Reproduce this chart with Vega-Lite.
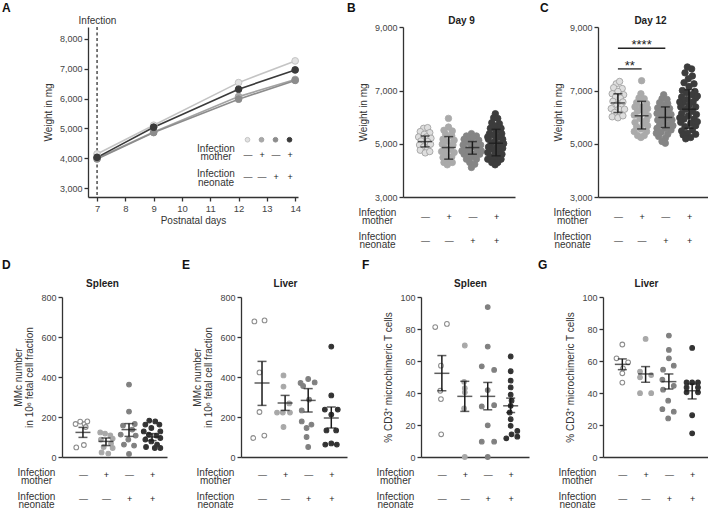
{
"$schema":"https://vega.github.io/schema/vega-lite/v6.json",
"padding":{"left":2,"top":2,"right":0,"bottom":0},
"config":{"font":"Liberation Sans","view":{"stroke":null},
"axis":{"grid":false,"domainColor":"#333","domainWidth":1.3,"tickColor":"#333","tickWidth":1.3,"tickSize":4,"labelColor":"#444","labelFontSize":9,"titleFontSize":10,"titleFontWeight":"normal","titleColor":"#333"},
"title":{"font":"Liberation Sans"}},
"datasets":{
"wA":[{"day":7,"g":1,"v":4143},{"day":7,"g":2,"v":4000},{"day":7,"g":3,"v":3975},{"day":7,"g":4,"v":4030},
{"day":9,"g":1,"v":5106},{"day":9,"g":2,"v":4880},{"day":9,"g":3,"v":4860},{"day":9,"g":4,"v":5040},
{"day":12,"g":1,"v":6535},{"day":12,"g":2,"v":6066},{"day":12,"g":3,"v":5980},{"day":12,"g":4,"v":6313},
{"day":14,"g":1,"v":7264},{"day":14,"g":2,"v":6640},{"day":14,"g":3,"v":6610},{"day":14,"g":4,"v":6962}],
"sig":[{"x1":1,"x2":3,"y":8330,"xm":2,"t":"****"},{"x1":1,"x2":2,"y":7680,"xm":1.5,"t":"**"}],
"sum":[
{"p":"B","g":1,"m":5080,"lo":4880,"hi":5292},{"p":"B","g":2,"m":4857,"lo":4421,"hi":5268},{"p":"B","g":3,"m":4857,"lo":4608,"hi":5082},{"p":"B","g":4,"m":5019,"lo":4545,"hi":5542},
{"p":"C","g":1,"m":6533,"lo":6173,"hi":6877},{"p":"C","g":2,"m":6050,"lo":5556,"hi":6593},{"p":"C","g":3,"m":5988,"lo":5605,"hi":6384},{"p":"C","g":4,"m":6297,"lo":5580,"hi":7025},
{"p":"D","g":1,"m":123,"lo":98,"hi":148},{"p":"D","g":2,"m":78,"lo":57,"hi":95},{"p":"D","g":3,"m":137,"lo":103,"hi":167},{"p":"D","g":4,"m":100,"lo":82,"hi":117},
{"p":"E","g":1,"m":370,"lo":258,"hi":478},{"p":"E","g":2,"m":270,"lo":233,"hi":308},{"p":"E","g":3,"m":283,"lo":225,"hi":342},{"p":"E","g":4,"m":195,"lo":145,"hi":250},
{"p":"F","g":1,"m":52.3,"lo":41.4,"hi":63.4},{"p":"F","g":2,"m":37.9,"lo":28.5,"hi":47.3},{"p":"F","g":3,"m":37.9,"lo":29.5,"hi":46.6},{"p":"F","g":4,"m":32,"lo":27.8,"hi":36.8},
{"p":"G","g":1,"m":57.9,"lo":54.6,"hi":61.3},{"p":"G","g":2,"m":51.9,"lo":46.7,"hi":56.5},{"p":"G","g":3,"m":47.1,"lo":42.5,"hi":51.9},{"p":"G","g":4,"m":41.4,"lo":36.3,"hi":45.6}],
"pts":[
{"p":"B","g":1,"x":0.94,"v":5579},{"p":"B","g":1,"x":1.11,"v":5605},{"p":"B","g":1,"x":0.8,"v":5456},{"p":"B","g":1,"x":1.2,"v":5418},{"p":"B","g":1,"x":0.97,"v":5355},{"p":"B","g":1,"x":0.73,"v":5254},{"p":"B","g":1,"x":1.06,"v":5254},{"p":"B","g":1,"x":1.25,"v":5206},{"p":"B","g":1,"x":0.83,"v":5105},{"p":"B","g":1,"x":1.11,"v":5082},{"p":"B","g":1,"x":0.77,"v":4955},{"p":"B","g":1,"x":1.23,"v":4981},{"p":"B","g":1,"x":0.94,"v":4880},{"p":"B","g":1,"x":1.11,"v":4794},{"p":"B","g":1,"x":0.8,"v":4757},{"p":"B","g":1,"x":1.01,"v":4657},{"p":"B","g":1,"x":1.2,"v":4707},
{"p":"B","g":2,"x":1.99,"v":5953},{"p":"B","g":2,"x":1.99,"v":5628},{"p":"B","g":2,"x":1.8,"v":5505},{"p":"B","g":2,"x":2.15,"v":5480},{"p":"B","g":2,"x":1.87,"v":5355},{"p":"B","g":2,"x":2.13,"v":5293},{"p":"B","g":2,"x":1.76,"v":5168},{"p":"B","g":2,"x":2.23,"v":5131},{"p":"B","g":2,"x":1.94,"v":5082},{"p":"B","g":2,"x":1.73,"v":4981},{"p":"B","g":2,"x":2.18,"v":4955},{"p":"B","g":2,"x":1.85,"v":4832},{"p":"B","g":2,"x":2.08,"v":4794},{"p":"B","g":2,"x":1.7,"v":4707},{"p":"B","g":2,"x":2.23,"v":4670},{"p":"B","g":2,"x":1.9,"v":4608},{"p":"B","g":2,"x":2.13,"v":4508},{"p":"B","g":2,"x":1.76,"v":4483},{"p":"B","g":2,"x":1.99,"v":4383},{"p":"B","g":2,"x":1.8,"v":4296},{"p":"B","g":2,"x":2.15,"v":4296},{"p":"B","g":2,"x":1.94,"v":4209},
{"p":"B","g":3,"x":2.96,"v":5380},{"p":"B","g":3,"x":2.75,"v":5293},{"p":"B","g":3,"x":3.17,"v":5293},{"p":"B","g":3,"x":2.65,"v":5168},{"p":"B","g":3,"x":2.93,"v":5168},{"p":"B","g":3,"x":3.27,"v":5131},{"p":"B","g":3,"x":2.82,"v":5044},{"p":"B","g":3,"x":3.1,"v":5007},{"p":"B","g":3,"x":2.61,"v":4955},{"p":"B","g":3,"x":3.35,"v":4955},{"p":"B","g":3,"x":2.96,"v":4880},{"p":"B","g":3,"x":2.7,"v":4794},{"p":"B","g":3,"x":3.24,"v":4794},{"p":"B","g":3,"x":2.89,"v":4707},{"p":"B","g":3,"x":3.13,"v":4632},{"p":"B","g":3,"x":2.65,"v":4608},{"p":"B","g":3,"x":3.31,"v":4608},{"p":"B","g":3,"x":2.96,"v":4508},{"p":"B","g":3,"x":2.75,"v":4421},{"p":"B","g":3,"x":3.17,"v":4421},{"p":"B","g":3,"x":2.89,"v":4296},{"p":"B","g":3,"x":3.1,"v":4234},{"p":"B","g":3,"x":2.96,"v":4109},{"p":"B","g":3,"x":2.79,"v":4545},{"p":"B","g":3,"x":3.17,"v":4857},{"p":"B","g":3,"x":3.03,"v":5254},{"p":"B","g":3,"x":3.38,"v":4732},{"p":"B","g":3,"x":2.56,"v":4732},
{"p":"B","g":4,"x":3.97,"v":6128},{"p":"B","g":4,"x":3.9,"v":5978},{"p":"B","g":4,"x":4.07,"v":5953},{"p":"B","g":4,"x":3.82,"v":5791},{"p":"B","g":4,"x":4.14,"v":5754},{"p":"B","g":4,"x":3.96,"v":5667},{"p":"B","g":4,"x":3.76,"v":5579},{"p":"B","g":4,"x":4.21,"v":5579},{"p":"B","g":4,"x":4.0,"v":5480},{"p":"B","g":4,"x":3.72,"v":5380},{"p":"B","g":4,"x":4.24,"v":5380},{"p":"B","g":4,"x":3.9,"v":5330},{"p":"B","g":4,"x":4.11,"v":5254},{"p":"B","g":4,"x":3.68,"v":5168},{"p":"B","g":4,"x":4.28,"v":5168},{"p":"B","g":4,"x":3.96,"v":5105},{"p":"B","g":4,"x":3.79,"v":5007},{"p":"B","g":4,"x":4.18,"v":4981},{"p":"B","g":4,"x":3.68,"v":4880},{"p":"B","g":4,"x":4.04,"v":4880},{"p":"B","g":4,"x":4.28,"v":4832},{"p":"B","g":4,"x":3.86,"v":4794},{"p":"B","g":4,"x":4.14,"v":4707},{"p":"B","g":4,"x":3.65,"v":4670},{"p":"B","g":4,"x":3.96,"v":4632},{"p":"B","g":4,"x":4.25,"v":4608},{"p":"B","g":4,"x":3.76,"v":4508},{"p":"B","g":4,"x":4.07,"v":4483},{"p":"B","g":4,"x":3.65,"v":4421},{"p":"B","g":4,"x":3.9,"v":4383},{"p":"B","g":4,"x":4.21,"v":4421},{"p":"B","g":4,"x":3.82,"v":4296},{"p":"B","g":4,"x":4.07,"v":4296},{"p":"B","g":4,"x":3.96,"v":4209},{"p":"B","g":4,"x":4.32,"v":5007},{"p":"B","g":4,"x":3.65,"v":5254},
{"p":"C","g":1,"x":0.93,"v":7210},{"p":"C","g":1,"x":1.07,"v":7284},{"p":"C","g":1,"x":0.82,"v":7087},{"p":"C","g":1,"x":1.18,"v":7062},{"p":"C","g":1,"x":1.0,"v":6963},{"p":"C","g":1,"x":0.76,"v":6877},{"p":"C","g":1,"x":1.24,"v":6840},{"p":"C","g":1,"x":0.9,"v":6754},{"p":"C","g":1,"x":1.1,"v":6717},{"p":"C","g":1,"x":0.79,"v":6593},{"p":"C","g":1,"x":1.21,"v":6569},{"p":"C","g":1,"x":0.96,"v":6470},{"p":"C","g":1,"x":1.14,"v":6384},{"p":"C","g":1,"x":0.72,"v":6321},{"p":"C","g":1,"x":1.04,"v":6297},{"p":"C","g":1,"x":1.28,"v":6297},{"p":"C","g":1,"x":0.86,"v":6173},{"p":"C","g":1,"x":1.1,"v":6099},{"p":"C","g":1,"x":0.76,"v":6013},{"p":"C","g":1,"x":1.0,"v":5976},{"p":"C","g":1,"x":1.21,"v":6050},
{"p":"C","g":2,"x":2.0,"v":7309},{"p":"C","g":2,"x":1.97,"v":6877},{"p":"C","g":2,"x":1.89,"v":6717},{"p":"C","g":2,"x":2.11,"v":6692},{"p":"C","g":2,"x":1.79,"v":6544},{"p":"C","g":2,"x":2.21,"v":6507},{"p":"C","g":2,"x":1.72,"v":6384},{"p":"C","g":2,"x":2.0,"v":6384},{"p":"C","g":2,"x":2.25,"v":6321},{"p":"C","g":2,"x":1.83,"v":6223},{"p":"C","g":2,"x":2.14,"v":6173},{"p":"C","g":2,"x":1.69,"v":6075},{"p":"C","g":2,"x":2.28,"v":6050},{"p":"C","g":2,"x":1.93,"v":5951},{"p":"C","g":2,"x":2.21,"v":5889},{"p":"C","g":2,"x":1.72,"v":5803},{"p":"C","g":2,"x":2.07,"v":5766},{"p":"C","g":2,"x":1.79,"v":5643},{"p":"C","g":2,"x":2.25,"v":5680},{"p":"C","g":2,"x":1.97,"v":5556},{"p":"C","g":2,"x":1.69,"v":5457},{"p":"C","g":2,"x":2.21,"v":5457},{"p":"C","g":2,"x":1.83,"v":5309},{"p":"C","g":2,"x":2.11,"v":5309},{"p":"C","g":2,"x":1.97,"v":5235},
{"p":"C","g":3,"x":2.93,"v":6840},{"p":"C","g":3,"x":2.86,"v":6692},{"p":"C","g":3,"x":3.07,"v":6667},{"p":"C","g":3,"x":2.76,"v":6544},{"p":"C","g":3,"x":3.1,"v":6507},{"p":"C","g":3,"x":2.93,"v":6445},{"p":"C","g":3,"x":2.68,"v":6346},{"p":"C","g":3,"x":3.18,"v":6321},{"p":"C","g":3,"x":2.86,"v":6260},{"p":"C","g":3,"x":3.04,"v":6173},{"p":"C","g":3,"x":2.65,"v":6136},{"p":"C","g":3,"x":3.24,"v":6099},{"p":"C","g":3,"x":2.86,"v":6050},{"p":"C","g":3,"x":3.1,"v":5951},{"p":"C","g":3,"x":2.68,"v":5889},{"p":"C","g":3,"x":3.28,"v":5889},{"p":"C","g":3,"x":2.93,"v":5828},{"p":"C","g":3,"x":2.76,"v":5704},{"p":"C","g":3,"x":3.14,"v":5704},{"p":"C","g":3,"x":2.65,"v":5580},{"p":"C","g":3,"x":3.0,"v":5580},{"p":"C","g":3,"x":3.24,"v":5519},{"p":"C","g":3,"x":2.82,"v":5432},{"p":"C","g":3,"x":3.1,"v":5358},{"p":"C","g":3,"x":2.72,"v":5272},{"p":"C","g":3,"x":3.0,"v":5210},{"p":"C","g":3,"x":2.86,"v":5087},{"p":"C","g":3,"x":3.0,"v":5020},{"p":"C","g":3,"x":2.62,"v":5395},{"p":"C","g":3,"x":3.32,"v":5680},
{"p":"C","g":4,"x":3.93,"v":7741},{"p":"C","g":4,"x":4.11,"v":7680},{"p":"C","g":4,"x":3.83,"v":7556},{"p":"C","g":4,"x":4.14,"v":7457},{"p":"C","g":4,"x":3.97,"v":7371},{"p":"C","g":4,"x":3.79,"v":7247},{"p":"C","g":4,"x":4.21,"v":7210},{"p":"C","g":4,"x":4.0,"v":7124},{"p":"C","g":4,"x":3.72,"v":7000},{"p":"C","g":4,"x":4.25,"v":6963},{"p":"C","g":4,"x":3.89,"v":6914},{"p":"C","g":4,"x":4.11,"v":6840},{"p":"C","g":4,"x":3.69,"v":6754},{"p":"C","g":4,"x":4.28,"v":6717},{"p":"C","g":4,"x":3.93,"v":6667},{"p":"C","g":4,"x":3.75,"v":6544},{"p":"C","g":4,"x":4.17,"v":6569},{"p":"C","g":4,"x":4.0,"v":6445},{"p":"C","g":4,"x":3.65,"v":6384},{"p":"C","g":4,"x":4.28,"v":6384},{"p":"C","g":4,"x":3.86,"v":6297},{"p":"C","g":4,"x":4.14,"v":6223},{"p":"C","g":4,"x":3.69,"v":6136},{"p":"C","g":4,"x":4.31,"v":6099},{"p":"C","g":4,"x":3.97,"v":6050},{"p":"C","g":4,"x":3.79,"v":5926},{"p":"C","g":4,"x":4.21,"v":5926},{"p":"C","g":4,"x":3.65,"v":5803},{"p":"C","g":4,"x":4.07,"v":5766},{"p":"C","g":4,"x":4.28,"v":5680},{"p":"C","g":4,"x":3.83,"v":5643},{"p":"C","g":4,"x":3.69,"v":5482},{"p":"C","g":4,"x":4.14,"v":5519},{"p":"C","g":4,"x":3.93,"v":5395},{"p":"C","g":4,"x":4.28,"v":5358},{"p":"C","g":4,"x":3.75,"v":5333},{"p":"C","g":4,"x":4.07,"v":5235},{"p":"C","g":4,"x":3.86,"v":5185},{"p":"C","g":4,"x":3.61,"v":5975},{"p":"C","g":4,"x":4.35,"v":5828},{"p":"C","g":4,"x":3.61,"v":6569},{"p":"C","g":4,"x":4.35,"v":6790},
{"p":"D","g":1,"x":0.68,"v":165},{"p":"D","g":1,"x":0.88,"v":177},{"p":"D","g":1,"x":1.07,"v":165},{"p":"D","g":1,"x":1.19,"v":178},{"p":"D","g":1,"x":1.12,"v":150},{"p":"D","g":1,"x":0.71,"v":48},{"p":"D","g":1,"x":1.04,"v":60},
{"p":"D","g":2,"x":1.75,"v":123},{"p":"D","g":2,"x":1.96,"v":117},{"p":"D","g":2,"x":2.19,"v":108},{"p":"D","g":2,"x":2.29,"v":92},{"p":"D","g":2,"x":1.78,"v":87},{"p":"D","g":2,"x":2.22,"v":67},{"p":"D","g":2,"x":1.9,"v":50},{"p":"D","g":2,"x":2.29,"v":45},{"p":"D","g":2,"x":1.81,"v":23},{"p":"D","g":2,"x":2.1,"v":17},
{"p":"D","g":3,"x":3.0,"v":362},{"p":"D","g":3,"x":3.0,"v":227},{"p":"D","g":3,"x":2.74,"v":157},{"p":"D","g":3,"x":3.25,"v":165},{"p":"D","g":3,"x":3.14,"v":137},{"p":"D","g":3,"x":2.64,"v":112},{"p":"D","g":3,"x":3.29,"v":107},{"p":"D","g":3,"x":2.97,"v":87},{"p":"D","g":3,"x":2.78,"v":62},{"p":"D","g":3,"x":3.22,"v":57},{"p":"D","g":3,"x":3.0,"v":15},
{"p":"D","g":4,"x":3.88,"v":182},{"p":"D","g":4,"x":4.14,"v":178},{"p":"D","g":4,"x":3.71,"v":162},{"p":"D","g":4,"x":4.32,"v":162},{"p":"D","g":4,"x":3.97,"v":145},{"p":"D","g":4,"x":3.64,"v":128},{"p":"D","g":4,"x":4.36,"v":128},{"p":"D","g":4,"x":3.86,"v":112},{"p":"D","g":4,"x":4.19,"v":107},{"p":"D","g":4,"x":3.71,"v":87},{"p":"D","g":4,"x":4.36,"v":95},{"p":"D","g":4,"x":3.97,"v":78},{"p":"D","g":4,"x":4.22,"v":62},{"p":"D","g":4,"x":3.74,"v":50},{"p":"D","g":4,"x":4.12,"v":45},{"p":"D","g":4,"x":4.36,"v":45},
{"p":"E","g":1,"x":0.67,"v":678},{"p":"E","g":1,"x":1.11,"v":683},{"p":"E","g":1,"x":0.89,"v":423},{"p":"E","g":1,"x":0.89,"v":225},{"p":"E","g":1,"x":0.62,"v":95},{"p":"E","g":1,"x":1.1,"v":107},
{"p":"E","g":2,"x":1.93,"v":408},{"p":"E","g":2,"x":1.93,"v":352},{"p":"E","g":2,"x":2.18,"v":268},{"p":"E","g":2,"x":1.65,"v":222},{"p":"E","g":2,"x":1.9,"v":222},{"p":"E","g":2,"x":2.21,"v":222},{"p":"E","g":2,"x":1.93,"v":150},
{"p":"E","g":3,"x":2.67,"v":370},{"p":"E","g":3,"x":3.0,"v":390},{"p":"E","g":3,"x":3.28,"v":373},{"p":"E","g":3,"x":2.78,"v":355},{"p":"E","g":3,"x":3.04,"v":287},{"p":"E","g":3,"x":2.72,"v":233},{"p":"E","g":3,"x":2.72,"v":178},{"p":"E","g":3,"x":3.14,"v":162},{"p":"E","g":3,"x":2.93,"v":145},{"p":"E","g":3,"x":2.93,"v":100},{"p":"E","g":3,"x":3.0,"v":50},
{"p":"E","g":4,"x":4.0,"v":552},{"p":"E","g":4,"x":4.0,"v":308},{"p":"E","g":4,"x":3.72,"v":237},{"p":"E","g":4,"x":4.28,"v":237},{"p":"E","g":4,"x":4.0,"v":212},{"p":"E","g":4,"x":3.79,"v":133},{"p":"E","g":4,"x":4.21,"v":133},{"p":"E","g":4,"x":3.74,"v":62},{"p":"E","g":4,"x":4.24,"v":62},{"p":"E","g":4,"x":4.0,"v":68},
{"p":"F","g":1,"x":0.71,"v":81.2},{"p":"F","g":1,"x":1.22,"v":83.2},{"p":"F","g":1,"x":0.96,"v":57.1},{"p":"F","g":1,"x":0.93,"v":41.4},{"p":"F","g":1,"x":0.96,"v":36.2},{"p":"F","g":1,"x":0.97,"v":14.2},
{"p":"F","g":2,"x":2.0,"v":69.7},{"p":"F","g":2,"x":1.97,"v":47},{"p":"F","g":2,"x":2.0,"v":43},{"p":"F","g":2,"x":2.0,"v":40.4},{"p":"F","g":2,"x":1.97,"v":30.3},{"p":"F","g":2,"x":2.0,"v":0},
{"p":"F","g":3,"x":3.0,"v":93.7},{"p":"F","g":3,"x":3.0,"v":69},{"p":"F","g":3,"x":2.74,"v":56.7},{"p":"F","g":3,"x":3.28,"v":54.4},{"p":"F","g":3,"x":3.0,"v":41.8},{"p":"F","g":3,"x":2.74,"v":31.6},{"p":"F","g":3,"x":3.28,"v":32.4},{"p":"F","g":3,"x":3.0,"v":19.8},{"p":"F","g":3,"x":2.74,"v":9.6},{"p":"F","g":3,"x":3.28,"v":9.6},{"p":"F","g":3,"x":3.0,"v":0},
{"p":"F","g":4,"x":4.0,"v":62.8},{"p":"F","g":4,"x":4.0,"v":53.6},{"p":"F","g":4,"x":4.0,"v":47.7},{"p":"F","g":4,"x":4.0,"v":43.5},{"p":"F","g":4,"x":4.0,"v":38.9},{"p":"F","g":4,"x":4.04,"v":35.2},{"p":"F","g":4,"x":4.0,"v":32},{"p":"F","g":4,"x":3.96,"v":27.8},{"p":"F","g":4,"x":4.0,"v":23.6},{"p":"F","g":4,"x":4.0,"v":19.5},{"p":"F","g":4,"x":3.81,"v":11.7},{"p":"F","g":4,"x":4.29,"v":16.3},{"p":"F","g":4,"x":4.04,"v":14.2},{"p":"F","g":4,"x":4.29,"v":12.7},
{"p":"G","g":1,"x":1.0,"v":70.3},{"p":"G","g":1,"x":0.75,"v":61.7},{"p":"G","g":1,"x":1.25,"v":59.2},{"p":"G","g":1,"x":1.03,"v":55.4},{"p":"G","g":1,"x":1.0,"v":52.3},{"p":"G","g":1,"x":1.0,"v":46.5},
{"p":"G","g":2,"x":2.0,"v":73.8},{"p":"G","g":2,"x":1.76,"v":53.4},{"p":"G","g":2,"x":1.76,"v":49.8},{"p":"G","g":2,"x":2.24,"v":51.2},{"p":"G","g":2,"x":1.76,"v":39.9},{"p":"G","g":2,"x":2.24,"v":39.9},
{"p":"G","g":3,"x":3.0,"v":75.9},{"p":"G","g":3,"x":3.0,"v":66.9},{"p":"G","g":3,"x":3.0,"v":61.7},{"p":"G","g":3,"x":3.21,"v":57.1},{"p":"G","g":3,"x":2.75,"v":54.6},{"p":"G","g":3,"x":2.72,"v":48.3},{"p":"G","g":3,"x":3.21,"v":44.5},{"p":"G","g":3,"x":2.75,"v":42.1},{"p":"G","g":3,"x":2.97,"v":35.2},{"p":"G","g":3,"x":2.72,"v":29.9},{"p":"G","g":3,"x":3.21,"v":28.3},{"p":"G","g":3,"x":2.97,"v":24.1},
{"p":"G","g":4,"x":4.0,"v":68.2},{"p":"G","g":4,"x":3.76,"v":46.6},{"p":"G","g":4,"x":4.0,"v":46.6},{"p":"G","g":4,"x":4.25,"v":46.6},{"p":"G","g":4,"x":3.76,"v":43.5},{"p":"G","g":4,"x":4.25,"v":43.5},{"p":"G","g":4,"x":3.76,"v":40.4},{"p":"G","g":4,"x":4.25,"v":40.4},{"p":"G","g":4,"x":4.0,"v":26.1},{"p":"G","g":4,"x":4.0,"v":14.8}]
},
"spacing":10,
"vconcat":[
{"bounds":"flush","spacing":0,
 "resolve":{"scale":{"fill":"independent","stroke":"independent"}},
 "hconcat":[
 {"width":26,"height":1,"data":{"values":[]},"mark":"point","encoding":{}},
 {"title":{"text":"A","anchor":"start","frame":"group","dx":-86,"fontSize":12,"fontWeight":"bold","color":"#111","baseline":"bottom","offset":-12},
  "width":210,"height":170,
  "resolve":{"axis":{"x":"independent","y":"independent"}},
  "layer":[
   {"data":{"values":[{"day":7}]},"mark":{"type":"rule","strokeDash":[3,2.5],"color":"#222","strokeWidth":1.2},
    "encoding":{"x":{"field":"day","type":"quantitative","axis":{"orient":"top","domain":false,"ticks":false,"labels":false,"title":"Infection","titleX":9,"titleAlign":"center","titlePadding":2,"titleFontSize":10,"titleColor":"#333"}}}},
   {"data":{"name":"wA"},"mark":{"type":"line","strokeWidth":1.6},
    "encoding":{
     "x":{"field":"day","type":"quantitative","scale":{"domain":[6.68,14.1],"nice":false,"zero":false},"axis":{"values":[7,8,9,10,11,12,13,14],"labelOverlap":false,"labelFlush":false,"title":"Postnatal days","titlePadding":3,"labelPadding":2,"labelFontSize":9.5}},
     "y":{"field":"v","type":"quantitative","scale":{"domain":[2700,8400],"nice":false,"zero":false},"axis":{"values":[3000,4000,5000,6000,7000,8000],"format":",.0f","labelOverlap":false,"title":"Weight in mg","titlePadding":6}},
     "stroke":{"field":"g","type":"ordinal","scale":{"domain":[1,2,3,4],"range":["#c4c4c4","#a3a3a3","#8c8c8c","#3a3a3a"]},
       "legend":{"orient":"none","legendX":109,"legendY":108,"direction":"horizontal","columns":4,
        "title":["\u200b","Infection","mother","\u200b","Infection","neonate"],"titleOrient":"left","titleAnchor":"start","titleAlign":"center","titleBaseline":"top","titleLineHeight":8.5,"titleFontSize":10,"titleFontWeight":"normal","titleColor":"#333","titlePadding":-11,
        "symbolType":"circle","symbolSize":22,"symbolStrokeWidth":1,
        "labelExpr":"datum.value==1?['\u200b','—','\u200b','—']:datum.value==2?['\u200b','+','\u200b','—']:datum.value==3?['\u200b','—','\u200b','+']:['\u200b','+','\u200b','+']",
        "labelAlign":"center","labelBaseline":"top","labelOffset":-4,"labelLineHeight":11,"labelFontSize":9,"labelColor":"#222","columnPadding":4,"rowPadding":0}}}},
   {"data":{"name":"wA"},"mark":{"type":"circle","size":45,"opacity":1,"strokeWidth":1},
    "encoding":{
     "x":{"field":"day","type":"quantitative","axis":null},
     "y":{"field":"v","type":"quantitative","axis":null},
     "fill":{"field":"g","type":"ordinal","scale":{"domain":[1,2,3,4],"range":["#e2e2e2","#a8a8a8","#8c8c8c","#3a3a3a"]},
       "legend":{"orient":"none","legendX":109,"legendY":108,"direction":"horizontal","columns":4,
        "title":["\u200b","Infection","mother","\u200b","Infection","neonate"],"titleOrient":"left","titleAnchor":"start","titleAlign":"center","titleBaseline":"top","titleLineHeight":8.5,"titleFontSize":10,"titleFontWeight":"normal","titleColor":"#333","titlePadding":-11,
        "symbolType":"circle","symbolSize":22,"symbolStrokeWidth":1,
        "labelExpr":"datum.value==1?['\u200b','—','\u200b','—']:datum.value==2?['\u200b','+','\u200b','—']:datum.value==3?['\u200b','—','\u200b','+']:['\u200b','+','\u200b','+']",
        "labelAlign":"center","labelBaseline":"top","labelOffset":-4,"labelLineHeight":11,"labelFontSize":9,"labelColor":"#222","columnPadding":4,"rowPadding":0}},
     "stroke":{"field":"g","type":"ordinal"}}}
  ]},
 {"width":105,"height":1,"data":{"values":[]},"mark":"point","encoding":{}},
 {"title":{"text":"B","anchor":"start","frame":"group","dx":-56,"fontSize":12,"fontWeight":"bold","color":"#111","baseline":"bottom","offset":-12},
  "width":112,"height":170,
  "resolve":{"axis":{"x":"independent","y":"independent"}},
  "layer":[
   {"data":{"name":"pts"},"transform":[{"filter":"datum.p=='B'"}],"mark":{"type":"circle","size":42,"opacity":1,"strokeWidth":0.8},
    "encoding":{
     "x":{"field":"x","type":"quantitative","scale":{"domain":[0.07,4.8],"nice":false,"zero":false},"axis":{"values":[1,2,3,4],"ticks":false,"labelOverlap":false,"labelFlush":false,"labelExpr":"datum.value==1?['—','—']:datum.value==2?['+','—']:datum.value==3?['—','+']:['+','+']","labelLineHeight":24,"labelPadding":15,"labelFontSize":9,"labelColor":"#222","title":["Infection","mother","\u200b","Infection","neonate"],"titleAngle":0,"titleX":-26,"titleY":10,"titleAlign":"center","titleBaseline":"top","titleLineHeight":8,"titleFontSize":10}},
     "y":{"field":"v","type":"quantitative","scale":{"domain":[3000,7000,9000],"range":[170,63.5,0],"nice":false,"zero":false},"axis":{"values":[3000,5000,7000,9000],"format":",.0f","labelOverlap":false,"title":"Weight in mg","titlePadding":6}},
     "fill":{"field":"g","type":"ordinal","scale":{"domain":[1,2,3,4],"range":["#dedede","#aaaaaa","#858585","#3c3c3c"]},"legend":null},
     "stroke":{"field":"g","type":"ordinal","scale":{"domain":[1,2,3,4],"range":["#9a9a9a","#aaaaaa","#858585","#3c3c3c"]},"legend":null}}},
   {"data":{"name":"sum"},"transform":[{"filter":"datum.p=='B'"}],"mark":{"type":"rule","color":"#1a1a1a","strokeWidth":1.5},
    "encoding":{"x":{"field":"g","type":"quantitative","axis":{"orient":"top","domain":false,"ticks":false,"labels":false,"title":"Day 9","titleX":58,"titleAlign":"center","titlePadding":2,"titleFontSize":10,"titleFontWeight":"bold","titleColor":"#222"}},"y":{"field":"lo","type":"quantitative","axis":null},"y2":{"field":"hi"}}},
   {"data":{"name":"sum"},"transform":[{"filter":"datum.p=='B'"}],"mark":{"type":"tick","orient":"horizontal","color":"#1a1a1a","thickness":1.5,"size":14},
    "encoding":{"x":{"field":"g","type":"quantitative","axis":null},"y":{"field":"m","type":"quantitative","axis":null}}},
   {"data":{"name":"sum"},"transform":[{"filter":"datum.p=='B'"},{"fold":["lo","hi"],"as":["k","cap"]}],"mark":{"type":"tick","orient":"horizontal","color":"#1a1a1a","thickness":1.5,"size":9},
    "encoding":{"x":{"field":"g","type":"quantitative","axis":null},"y":{"field":"cap","type":"quantitative","axis":null}}}
  ]},
 {"width":83,"height":1,"data":{"values":[]},"mark":"point","encoding":{}},
 {"title":{"text":"C","anchor":"start","frame":"group","dx":-58,"fontSize":12,"fontWeight":"bold","color":"#111","baseline":"bottom","offset":-12},
  "width":110,"height":170,
  "resolve":{"axis":{"x":"independent","y":"independent"}},
  "layer":[
   {"data":{"name":"pts"},"transform":[{"filter":"datum.p=='C'"}],"mark":{"type":"circle","size":42,"opacity":1,"strokeWidth":0.8},
    "encoding":{
     "x":{"field":"x","type":"quantitative","scale":{"domain":[0.16,4.8],"nice":false,"zero":false},"axis":{"values":[1,2,3,4],"ticks":false,"labelOverlap":false,"labelFlush":false,"labelExpr":"datum.value==1?['—','—']:datum.value==2?['+','—']:datum.value==3?['—','+']:['+','+']","labelLineHeight":24,"labelPadding":15,"labelFontSize":9,"labelColor":"#222","title":["Infection","mother","\u200b","Infection","neonate"],"titleAngle":0,"titleX":-26,"titleY":10,"titleAlign":"center","titleBaseline":"top","titleLineHeight":8,"titleFontSize":10}},
     "y":{"field":"v","type":"quantitative","scale":{"domain":[3000,7000,9000],"range":[170,63.5,0],"nice":false,"zero":false},"axis":{"values":[3000,5000,7000,9000],"format":",.0f","labelOverlap":false,"title":"Weight in mg","titlePadding":6}},
     "fill":{"field":"g","type":"ordinal","scale":{"domain":[1,2,3,4],"range":["#dedede","#aaaaaa","#858585","#3c3c3c"]},"legend":null},
     "stroke":{"field":"g","type":"ordinal","scale":{"domain":[1,2,3,4],"range":["#9a9a9a","#aaaaaa","#858585","#3c3c3c"]},"legend":null}}},
   {"data":{"name":"sum"},"transform":[{"filter":"datum.p=='C'"}],"mark":{"type":"rule","color":"#1a1a1a","strokeWidth":1.5},
    "encoding":{"x":{"field":"g","type":"quantitative","axis":{"orient":"top","domain":false,"ticks":false,"labels":false,"title":"Day 12","titleX":52,"titleAlign":"center","titlePadding":2,"titleFontSize":10,"titleFontWeight":"bold","titleColor":"#222"}},"y":{"field":"lo","type":"quantitative","axis":null},"y2":{"field":"hi"}}},
   {"data":{"name":"sum"},"transform":[{"filter":"datum.p=='C'"}],"mark":{"type":"tick","orient":"horizontal","color":"#1a1a1a","thickness":1.5,"size":14},
    "encoding":{"x":{"field":"g","type":"quantitative","axis":null},"y":{"field":"m","type":"quantitative","axis":null}}},
   {"data":{"name":"sum"},"transform":[{"filter":"datum.p=='C'"},{"fold":["lo","hi"],"as":["k","cap"]}],"mark":{"type":"tick","orient":"horizontal","color":"#1a1a1a","thickness":1.5,"size":9},
    "encoding":{"x":{"field":"g","type":"quantitative","axis":null},"y":{"field":"cap","type":"quantitative","axis":null}}},
   {"data":{"name":"sig"},"mark":{"type":"rule","color":"#222","strokeWidth":1.3},
    "encoding":{"x":{"field":"x1","type":"quantitative","axis":null},"x2":{"field":"x2"},"y":{"field":"y","type":"quantitative","axis":null}}},
   {"data":{"name":"sig"},"mark":{"type":"text","baseline":"alphabetic","dy":1,"fontSize":13,"color":"#222"},
    "encoding":{"x":{"field":"xm","type":"quantitative","axis":null},"y":{"field":"y","type":"quantitative","axis":null},"text":{"field":"t"}}}
  ]}
 ]},
{"bounds":"flush","spacing":74,
 "resolve":{"scale":{"fill":"independent","stroke":"independent"}},
 "hconcat":[
 {"title":{"text":"D","anchor":"start","frame":"group","dx":-60,"fontSize":12,"fontWeight":"bold","color":"#111","baseline":"bottom","offset":-6},
  "width":105,"height":160,
  "resolve":{"axis":{"x":"independent","y":"independent"}},
  "layer":[
   {"data":{"name":"pts"},"transform":[{"filter":"datum.p=='D'"}],"mark":{"type":"circle","size":22,"opacity":1,"strokeWidth":1.1},
    "encoding":{
     "x":{"field":"x","type":"quantitative","scale":{"domain":[0.09,4.65],"nice":false,"zero":false},"axis":{"values":[1,2,3,4],"ticks":false,"labelOverlap":false,"labelFlush":false,"labelExpr":"datum.value==1?['—','—']:datum.value==2?['+','—']:datum.value==3?['—','+']:['+','+']","labelLineHeight":24,"labelPadding":13,"labelFontSize":9,"labelColor":"#222","title":["Infection","mother","\u200b","Infection","neonate"],"titleAngle":0,"titleX":-26,"titleY":10,"titleAlign":"center","titleBaseline":"top","titleLineHeight":8,"titleFontSize":10}},
     "y":{"field":"v","type":"quantitative","scale":{"domain":[0,800],"nice":false},"axis":{"values":[0,200,400,600,800],"labelOverlap":false,"title":["MMc number","in 10⁶ fetal cell fraction"],"titleLineHeight":11,"titlePadding":6}},
     "fill":{"field":"g","type":"ordinal","scale":{"domain":[1,2,3,4],"range":["#ffffff","#a8a8a8","#808080","#333333"]},"legend":null},
     "stroke":{"field":"g","type":"ordinal","scale":{"domain":[1,2,3,4],"range":["#8c8c8c","#a8a8a8","#808080","#333333"]},"legend":null}}},
   {"data":{"name":"sum"},"transform":[{"filter":"datum.p=='D'"}],"mark":{"type":"rule","color":"#1a1a1a","strokeWidth":1.5},
    "encoding":{"x":{"field":"g","type":"quantitative","axis":{"orient":"top","domain":false,"ticks":false,"labels":false,"title":"Spleen","titleX":40,"titleAlign":"center","titlePadding":9,"titleFontSize":10,"titleFontWeight":"bold","titleColor":"#222"}},"y":{"field":"lo","type":"quantitative","axis":null},"y2":{"field":"hi"}}},
   {"data":{"name":"sum"},"transform":[{"filter":"datum.p=='D'"}],"mark":{"type":"tick","orient":"horizontal","color":"#1a1a1a","thickness":1.5,"size":15},
    "encoding":{"x":{"field":"g","type":"quantitative","axis":null},"y":{"field":"m","type":"quantitative","axis":null}}},
   {"data":{"name":"sum"},"transform":[{"filter":"datum.p=='D'"},{"fold":["lo","hi"],"as":["k","cap"]}],"mark":{"type":"tick","orient":"horizontal","color":"#1a1a1a","thickness":1.5,"size":9},
    "encoding":{"x":{"field":"g","type":"quantitative","axis":null},"y":{"field":"cap","type":"quantitative","axis":null}}}
  ]},
 {"title":{"text":"E","anchor":"start","frame":"group","dx":-59,"fontSize":12,"fontWeight":"bold","color":"#111","baseline":"bottom","offset":-6},
  "width":106,"height":160,
  "resolve":{"axis":{"x":"independent","y":"independent"}},
  "layer":[
   {"data":{"name":"pts"},"transform":[{"filter":"datum.p=='E'"}],"mark":{"type":"circle","size":22,"opacity":1,"strokeWidth":1.1},
    "encoding":{
     "x":{"field":"x","type":"quantitative","scale":{"domain":[0.09,4.68],"nice":false,"zero":false},"axis":{"values":[1,2,3,4],"ticks":false,"labelOverlap":false,"labelFlush":false,"labelExpr":"datum.value==1?['—','—']:datum.value==2?['+','—']:datum.value==3?['—','+']:['+','+']","labelLineHeight":24,"labelPadding":13,"labelFontSize":9,"labelColor":"#222","title":["Infection","mother","\u200b","Infection","neonate"],"titleAngle":0,"titleX":-26,"titleY":10,"titleAlign":"center","titleBaseline":"top","titleLineHeight":8,"titleFontSize":10}},
     "y":{"field":"v","type":"quantitative","scale":{"domain":[0,800],"nice":false},"axis":{"values":[0,200,400,600,800],"labelOverlap":false,"title":["MMc number","in 10⁶ fetal cell fraction"],"titleLineHeight":11,"titlePadding":6}},
     "fill":{"field":"g","type":"ordinal","scale":{"domain":[1,2,3,4],"range":["#ffffff","#a8a8a8","#808080","#333333"]},"legend":null},
     "stroke":{"field":"g","type":"ordinal","scale":{"domain":[1,2,3,4],"range":["#8c8c8c","#a8a8a8","#808080","#333333"]},"legend":null}}},
   {"data":{"name":"sum"},"transform":[{"filter":"datum.p=='E'"}],"mark":{"type":"rule","color":"#1a1a1a","strokeWidth":1.5},
    "encoding":{"x":{"field":"g","type":"quantitative","axis":{"orient":"top","domain":false,"ticks":false,"labels":false,"title":"Liver","titleX":44,"titleAlign":"center","titlePadding":9,"titleFontSize":10,"titleFontWeight":"bold","titleColor":"#222"}},"y":{"field":"lo","type":"quantitative","axis":null},"y2":{"field":"hi"}}},
   {"data":{"name":"sum"},"transform":[{"filter":"datum.p=='E'"}],"mark":{"type":"tick","orient":"horizontal","color":"#1a1a1a","thickness":1.5,"size":15},
    "encoding":{"x":{"field":"g","type":"quantitative","axis":null},"y":{"field":"m","type":"quantitative","axis":null}}},
   {"data":{"name":"sum"},"transform":[{"filter":"datum.p=='E'"},{"fold":["lo","hi"],"as":["k","cap"]}],"mark":{"type":"tick","orient":"horizontal","color":"#1a1a1a","thickness":1.5,"size":9},
    "encoding":{"x":{"field":"g","type":"quantitative","axis":null},"y":{"field":"cap","type":"quantitative","axis":null}}}
  ]},
 {"title":{"text":"F","anchor":"start","frame":"group","dx":-59,"fontSize":12,"fontWeight":"bold","color":"#111","baseline":"bottom","offset":-6},
  "width":108,"height":160,
  "resolve":{"axis":{"x":"independent","y":"independent"}},
  "layer":[
   {"data":{"name":"pts"},"transform":[{"filter":"datum.p=='F'"}],"mark":{"type":"circle","size":22,"opacity":1,"strokeWidth":1.1},
    "encoding":{
     "x":{"field":"x","type":"quantitative","scale":{"domain":[0.09,4.8],"nice":false,"zero":false},"axis":{"values":[1,2,3,4],"ticks":false,"labelOverlap":false,"labelFlush":false,"labelExpr":"datum.value==1?['—','—']:datum.value==2?['+','—']:datum.value==3?['—','+']:['+','+']","labelLineHeight":24,"labelPadding":13,"labelFontSize":9,"labelColor":"#222","title":["Infection","mother","\u200b","Infection","neonate"],"titleAngle":0,"titleX":-26,"titleY":10,"titleAlign":"center","titleBaseline":"top","titleLineHeight":8,"titleFontSize":10}},
     "y":{"field":"v","type":"quantitative","scale":{"domain":[0,100],"nice":false},"axis":{"values":[0,20,40,60,80,100],"labelOverlap":false,"title":"% CD3⁺ microchimeric T cells","titlePadding":6}},
     "fill":{"field":"g","type":"ordinal","scale":{"domain":[1,2,3,4],"range":["#ffffff","#a8a8a8","#808080","#333333"]},"legend":null},
     "stroke":{"field":"g","type":"ordinal","scale":{"domain":[1,2,3,4],"range":["#8c8c8c","#a8a8a8","#808080","#333333"]},"legend":null}}},
   {"data":{"name":"sum"},"transform":[{"filter":"datum.p=='F'"}],"mark":{"type":"rule","color":"#1a1a1a","strokeWidth":1.5},
    "encoding":{"x":{"field":"g","type":"quantitative","axis":{"orient":"top","domain":false,"ticks":false,"labels":false,"title":"Spleen","titleX":49,"titleAlign":"center","titlePadding":9,"titleFontSize":10,"titleFontWeight":"bold","titleColor":"#222"}},"y":{"field":"lo","type":"quantitative","axis":null},"y2":{"field":"hi"}}},
   {"data":{"name":"sum"},"transform":[{"filter":"datum.p=='F'"}],"mark":{"type":"tick","orient":"horizontal","color":"#1a1a1a","thickness":1.5,"size":15},
    "encoding":{"x":{"field":"g","type":"quantitative","axis":null},"y":{"field":"m","type":"quantitative","axis":null}}},
   {"data":{"name":"sum"},"transform":[{"filter":"datum.p=='F'"},{"fold":["lo","hi"],"as":["k","cap"]}],"mark":{"type":"tick","orient":"horizontal","color":"#1a1a1a","thickness":1.5,"size":9},
    "encoding":{"x":{"field":"g","type":"quantitative","axis":null},"y":{"field":"cap","type":"quantitative","axis":null}}}
  ]},
 {"title":{"text":"G","anchor":"start","frame":"group","dx":-65,"fontSize":12,"fontWeight":"bold","color":"#111","baseline":"bottom","offset":-6},
  "width":105,"height":160,
  "resolve":{"axis":{"x":"independent","y":"independent"}},
  "layer":[
   {"data":{"name":"pts"},"transform":[{"filter":"datum.p=='G'"}],"mark":{"type":"circle","size":22,"opacity":1,"strokeWidth":1.1},
    "encoding":{
     "x":{"field":"x","type":"quantitative","scale":{"domain":[0.17,4.68],"nice":false,"zero":false},"axis":{"values":[1,2,3,4],"ticks":false,"labelOverlap":false,"labelFlush":false,"labelExpr":"datum.value==1?['—','—']:datum.value==2?['+','—']:datum.value==3?['—','+']:['+','+']","labelLineHeight":24,"labelPadding":13,"labelFontSize":9,"labelColor":"#222","title":["Infection","mother","\u200b","Infection","neonate"],"titleAngle":0,"titleX":-26,"titleY":10,"titleAlign":"center","titleBaseline":"top","titleLineHeight":8,"titleFontSize":10}},
     "y":{"field":"v","type":"quantitative","scale":{"domain":[0,100],"nice":false},"axis":{"values":[0,20,40,60,80,100],"labelOverlap":false,"title":"% CD3⁺ microchimeric T cells","titlePadding":6}},
     "fill":{"field":"g","type":"ordinal","scale":{"domain":[1,2,3,4],"range":["#ffffff","#a8a8a8","#808080","#333333"]},"legend":null},
     "stroke":{"field":"g","type":"ordinal","scale":{"domain":[1,2,3,4],"range":["#8c8c8c","#a8a8a8","#808080","#333333"]},"legend":null}}},
   {"data":{"name":"sum"},"transform":[{"filter":"datum.p=='G'"}],"mark":{"type":"rule","color":"#1a1a1a","strokeWidth":1.5},
    "encoding":{"x":{"field":"g","type":"quantitative","axis":{"orient":"top","domain":false,"ticks":false,"labels":false,"title":"Liver","titleX":43,"titleAlign":"center","titlePadding":9,"titleFontSize":10,"titleFontWeight":"bold","titleColor":"#222"}},"y":{"field":"lo","type":"quantitative","axis":null},"y2":{"field":"hi"}}},
   {"data":{"name":"sum"},"transform":[{"filter":"datum.p=='G'"}],"mark":{"type":"tick","orient":"horizontal","color":"#1a1a1a","thickness":1.5,"size":15},
    "encoding":{"x":{"field":"g","type":"quantitative","axis":null},"y":{"field":"m","type":"quantitative","axis":null}}},
   {"data":{"name":"sum"},"transform":[{"filter":"datum.p=='G'"},{"fold":["lo","hi"],"as":["k","cap"]}],"mark":{"type":"tick","orient":"horizontal","color":"#1a1a1a","thickness":1.5,"size":9},
    "encoding":{"x":{"field":"g","type":"quantitative","axis":null},"y":{"field":"cap","type":"quantitative","axis":null}}}
  ]}
 ]}
]
}
